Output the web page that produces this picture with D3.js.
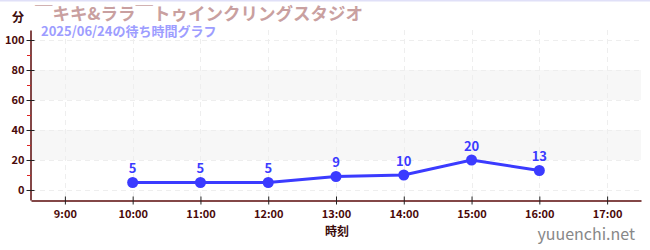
<!DOCTYPE html>
<html>
<head>
<meta charset="utf-8">
<script src="https://cdn.jsdelivr.net/npm/d3@7"></script>
<style>
  body { margin: 0; background: #fff; }
  svg { display: block; font-family: "Noto Sans CJK JP", "Noto Sans", sans-serif; }
</style>
</head>
<body>
<div id="chart"></div>
<script>
const hours = [10, 11, 12, 13, 14, 15, 16];
const waits = [5, 5, 5, 9, 10, 20, 13];
const xTicks = [9, 10, 11, 12, 13, 14, 15, 16, 17];
const yTicks = [0, 20, 40, 60, 80, 100];
const yMinor = [10, 30, 50, 70, 90];
const bands = [[20, 40], [60, 80]];

const width = 650, height = 250;
const svg = d3.select("#chart").append("svg")
  .attr("width", width).attr("height", height);

const x = d3.scaleLinear().domain([8.5, 17.5]).range([31, 641]);
const y = d3.scaleLinear().domain([-6.67, 106.67]).range([200, 30]);

// top border
svg.append("line").attr("x1", 0).attr("x2", width).attr("y1", 0.5).attr("y2", 0.5)
  .attr("stroke", "#e0e0f8").attr("stroke-width", 2);

// shaded bands
svg.selectAll("rect.band").data(bands).enter().append("rect")
  .attr("class", "band")
  .attr("x", x.range()[0]).attr("width", x.range()[1] - x.range()[0])
  .attr("y", d => y(d[1])).attr("height", d => y(d[0]) - y(d[1]))
  .attr("fill", "#f7f7f7");

// grid
svg.selectAll("line.hgrid").data(yTicks).enter().append("line")
  .attr("x1", x.range()[0]).attr("x2", x.range()[1])
  .attr("y1", d => y(d) + 0.5).attr("y2", d => y(d) + 0.5)
  .attr("stroke", "#eeeeee").attr("stroke-dasharray", "5,4");
svg.selectAll("line.vgrid").data(xTicks).enter().append("line")
  .attr("x1", d => Math.round(x(d)) + 0.5).attr("x2", d => Math.round(x(d)) + 0.5)
  .attr("y1", 30).attr("y2", 200)
  .attr("stroke", "#eeeeee").attr("stroke-dasharray", "5,4");

// axes
const axisColor = "#5a0a0a";
const xAxis = svg.append("g").attr("transform", "translate(0,200.5)")
  .call(d3.axisBottom(x).tickValues(xTicks).tickFormat(d => d + ":00").tickSize(4).tickSizeOuter(0));
const yAxis = svg.append("g").attr("transform", "translate(30.5,0)")
  .call(d3.axisLeft(y).tickValues(yTicks).tickSize(4).tickSizeOuter(0));
yAxis.selectAll(".tick line").attr("x2", 4).attr("x1", -4);
xAxis.selectAll(".tick line").attr("y1", -4).attr("y2", 4);
svg.append("g").selectAll("line").data(yMinor).enter().append("line")
  .attr("x1", 27).attr("x2", 31)
  .attr("y1", d => y(d) + 0.5).attr("y2", d => y(d) + 0.5)
  .attr("stroke", "#dd2222");

[xAxis, yAxis].forEach(a => {
  a.select(".domain").attr("stroke", axisColor).attr("stroke-width", 1.5);
  a.selectAll(".tick line").attr("stroke", "#222");
  a.selectAll(".tick text").attr("fill", "#4a0a0a")
    .style("font-size", "11px").style("font-weight", "bold")
    .style("font-family", "'Noto Sans CJK JP', sans-serif");
});
xAxis.selectAll(".tick text").attr("y", 10);
yAxis.selectAll(".tick text").attr("x", -6);

// line
const line = d3.line().x((d, i) => x(hours[i])).y(d => y(d));
svg.append("path").datum(waits)
  .attr("d", line).attr("fill", "none")
  .attr("stroke", "#3b3bff").attr("stroke-width", 3);
svg.selectAll("circle.pt").data(waits).enter().append("circle")
  .attr("cx", (d, i) => x(hours[i])).attr("cy", d => y(d)).attr("r", 5.5)
  .attr("fill", "#3b3bff");
svg.selectAll("text.val").data(waits).enter().append("text")
  .attr("x", (d, i) => x(hours[i])).attr("y", d => y(d) - 9)
  .attr("text-anchor", "middle")
  .attr("fill", "#3b3bff").style("font-size", "13px").style("font-weight", "bold")
  .text(d => d);

// titles
svg.append("text").attr("x", 12).attr("y", 22)
  .attr("fill", "#3a0a0a").style("font-size", "12px").style("font-weight", "bold")
  .text("分");
svg.append("text").attr("x", 35).attr("y", 20)
  .attr("fill", "#c9a0a0").style("font-size", "17.5px").style("font-weight", "bold")
  .text("￣キキ&ララ￣トゥインクリングスタジオ");
svg.append("text").attr("x", 41).attr("y", 36)
  .attr("fill", "#9d9dff").style("font-size", "13px").style("font-weight", "bold")
  .text("2025/06/24の待ち時間グラフ");
svg.append("text").attr("x", 337).attr("y", 236).attr("text-anchor", "middle")
  .attr("fill", "#3a0a0a").style("font-size", "12px").style("font-weight", "bold")
  .text("時刻");
svg.append("text").attr("x", 635).attr("y", 240).attr("text-anchor", "end")
  .attr("fill", "#888").style("font-size", "16px")
  .text("yuuenchi.net");
</script>
</body>
</html>
